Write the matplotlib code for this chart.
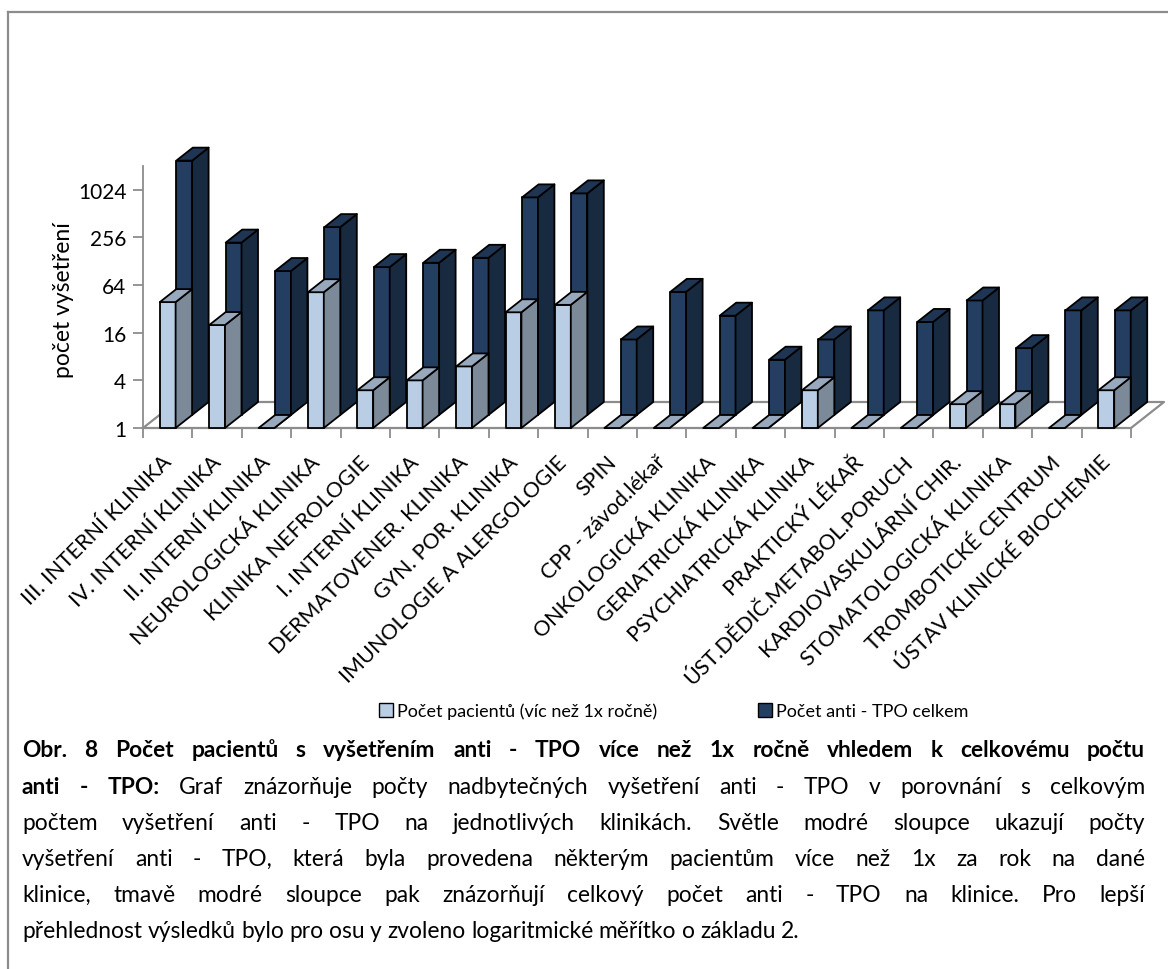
import numpy as np
import matplotlib
matplotlib.use('Agg')
import matplotlib.pyplot as plt
from matplotlib.patches import Polygon, Patch
from matplotlib.transforms import IdentityTransform
from matplotlib.lines import Line2D

plt.rcParams['font.family'] = ['Lato', 'DejaVu Sans']

kliniky = [
    'III. INTERNÍ KLINIKA', 'IV. INTERNÍ KLINIKA', 'II. INTERNÍ KLINIKA',
    'NEUROLOGICKÁ KLINIKA', 'KLINIKA NEFROLOGIE', 'I. INTERNÍ KLINIKA',
    'DERMATOVENER. KLINIKA', 'GYN. POR. KLINIKA', 'IMUNOLOGIE A ALERGOLOGIE',
    'SPIN', 'CPP - závod.lékař', 'ONKOLOGICKÁ KLINIKA', 'GERIATRICKÁ KLINIKA',
    'PSYCHIATRICKÁ KLINIKA', 'PRAKTICKÝ LÉKAŘ', 'ÚST.DĚDIČ.METABOL.PORUCH',
    'KARDIOVASKULÁRNÍ CHIR.', 'STOMATOLOGICKÁ KLINIKA', 'TROMBOTICKÉ CENTRUM',
    'ÚSTAV KLINICKÉ BIOCHEMIE',
]
pacienti = [39, 20, 0, 52, 3, 4, 6, 29, 36, 0, 0, 0, 0, 3, 0, 0, 2, 2, 0, 3]
celkem = [1640, 151, 66, 237, 74, 84, 97, 563, 632, 9, 36, 18, 5, 9, 21, 15, 28, 7, 21, 21]

serie_nazvy = ['Počet pacientů (víc než 1x ročně)', 'Počet anti - TPO celkem']
y_ticks = [1, 4, 16, 64, 256, 1024]

# colours: front, side, top
LIGHT = ('#B9CDE5', '#7B8999', '#98A9BE')
DARK = ('#233E61', '#172A40', '#1E3553')
GRID = '#8C8C8C'

W, H = 1168, 970
fig = plt.figure(figsize=(W / 100, H / 100), dpi=100)
ax = fig.add_axes([143 / W, 1 - 429 / H, 988 / W, 262 / H])

n = len(kliniky)
ax.set_yscale('log', base=2)
ax.set_xlim(-0.5, n - 0.5)
ax.set_ylim(1, 2048)
ax.set_facecolor('none')
for s in ['top', 'right', 'bottom']:
    ax.spines[s].set_visible(False)
ax.spines['left'].set_color(GRID)
ax.spines['left'].set_linewidth(1.3)

ax.set_yticks(y_ticks, labels=[str(v) for v in y_ticks])
ax.yaxis.set_minor_locator(matplotlib.ticker.NullLocator())
ax.tick_params(axis='y', which='major', length=7, width=1.3, color=GRID, labelsize=15, pad=5)

ax.set_xticks(np.arange(n + 1) - 0.5, labels=[])
ax.tick_params(axis='x', which='major', length=7, width=1.3, color=GRID, direction='out')
ax.set_xticks(np.arange(n) + 0.02, labels=kliniky, minor=True)
ax.tick_params(axis='x', which='minor', length=0, labelsize=15.5, pad=22)
for lab in ax.get_xticklabels(minor=True):
    lab.set_rotation(45)
    lab.set_ha('right')
    lab.set_va('center')
    lab.set_rotation_mode('anchor')

ax.set_ylabel('počet vyšetření', fontsize=16.5)
ax.yaxis.set_label_coords(-0.07, 0.49)

# pseudo 3D: one depth row per series
DX, DY = 16.5, 13.0
bw = 0.32


def P(x, y, d):
    px, py = ax.transData.transform((x, y))
    return (px + d * DX, py + d * DY)


def poly(pts, fc, ec='black', lw=1.3, z=2):
    ax.add_patch(Polygon(pts, closed=True, fc=fc, ec=ec, lw=lw, joinstyle='round',
                         transform=IdentityTransform(), clip_on=False, zorder=z))


# floor
floor = [P(-0.5, 1, 0), P(n - 0.5, 1, 0), P(n - 0.5, 1, 2.0), P(-0.5, 1, 2.0)]
poly(floor, 'white', ec=GRID, lw=1.6, z=1)


def bar(i, v, row, cols):
    x0, x1 = i - bw / 2, i + bw / 2
    top = max(v, 1)
    poly([P(x0, 1, row), P(x1, 1, row), P(x1, top, row), P(x0, top, row)], cols[0])
    poly([P(x1, 1, row), P(x1, 1, row + 1), P(x1, top, row + 1), P(x1, top, row)], cols[1])
    poly([P(x0, top, row), P(x1, top, row), P(x1, top, row + 1), P(x0, top, row + 1)], cols[2])


for i in range(n):
    bar(i, celkem[i], 1, DARK)
    bar(i, pacienti[i], 0, LIGHT)

fig.legend(handles=[Patch(fc=LIGHT[0], ec='black', lw=1), Patch(fc=DARK[0], ec='black', lw=1)],
           labels=serie_nazvy, loc='center', bbox_to_anchor=(674 / W, 1 - 712 / H),
           ncol=2, frameon=False, fontsize=13, handlelength=0.75, handleheight=0.75,
           handletextpad=0.25, columnspacing=5.6)

# frame around chart + caption
fig.add_artist(Line2D([8 / W, 1], [1 - 13 / H, 1 - 13 / H], color=GRID, lw=1.6))
fig.add_artist(Line2D([8 / W, 8 / W], [0, 1 - 13 / H], color=GRID, lw=1.6))

# caption, justified
CAP_FS = 16.4
X0, X1 = 22, 1145
caption = [
    ([('Obr. 8 Počet pacientů s vyšetřením anti - TPO více než 1x ročně vhledem k celkovému počtu', 'bold')], True),
    ([('anti - TPO:', 'bold'),
      ('Graf znázorňuje počty nadbytečných vyšetření anti - TPO v porovnání s celkovým', 'normal')], True),
    ([('počtem vyšetření anti - TPO na jednotlivých klinikách. Světle modré sloupce ukazují počty', 'normal')], True),
    ([('vyšetření anti - TPO, která byla provedena některým pacientům více než 1x za rok na dané', 'normal')], True),
    ([('klinice, tmavě modré sloupce pak znázorňují celkový počet anti - TPO na klinice. Pro lepší', 'normal')], True),
    ([('přehlednost výsledků bylo pro osu y zvoleno logaritmické měřítko o základu 2.', 'normal')], False),
]
baselines = [757, 794, 830, 866, 902, 938]

renderer = fig.canvas.get_renderer()
for (parts, justify), yb in zip(caption, baselines):
    words = [(w, wt) for txt, wt in parts for w in txt.split(' ')]
    arts = [fig.text(0, H - yb, w, fontsize=CAP_FS, fontweight=wt, va='baseline', ha='left',
                     transform=IdentityTransform()) for w, wt in words]
    widths = [a.get_window_extent(renderer).width for a in arts]
    if justify:
        gap = (X1 - X0 - sum(widths)) / (len(arts) - 1)
    else:
        gap = CAP_FS * 100 / 72 * 0.24
    x = X0
    for a, w in zip(arts, widths):
        a.set_x(x)
        x += w + gap

fig.savefig('out.png', dpi=100)
